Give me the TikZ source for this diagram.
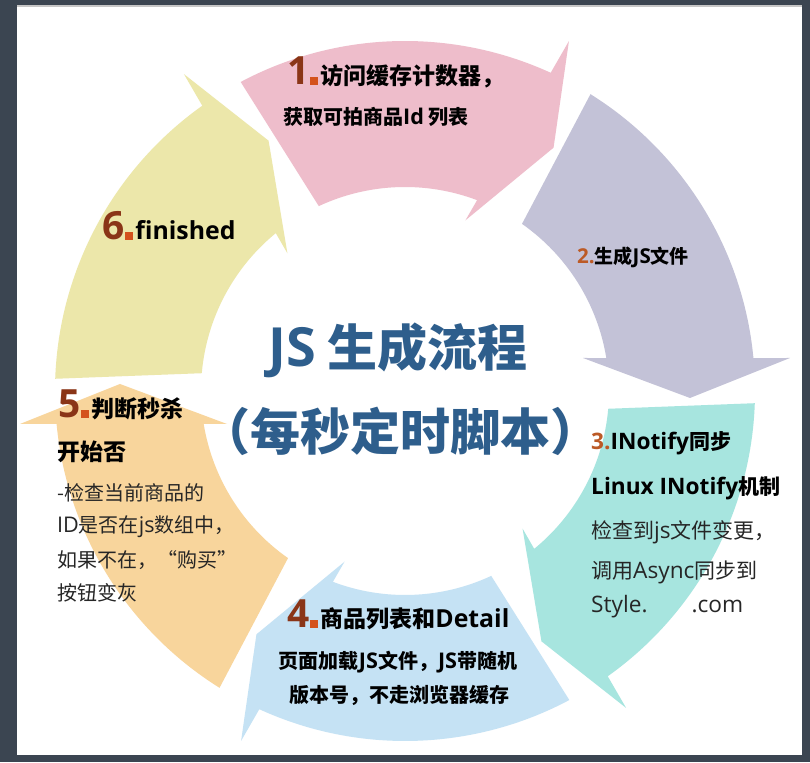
\documentclass[tikz,border=0pt]{standalone}
\usepackage{fontspec}
\usepackage{tikz}
\usetikzlibrary{positioning}
\newfontfamily\cjk{Noto Sans CJK SC}
\newfontfamily\latfont[Scale=1.08]{Open Sans}
\newcommand{\lt}[1]{{\latfont #1}}
\definecolor{framegray}{HTML}{3B4551}
\definecolor{arrowpink}{HTML}{EEBDCB}
\definecolor{arrowlilac}{HTML}{C3C2D7}
\definecolor{arrowteal}{HTML}{A7E5DF}
\definecolor{arrowblue}{HTML}{C5E2F4}
\definecolor{arroworange}{HTML}{F8D59C}
\definecolor{arrowyellow}{HTML}{ECE7AA}
\definecolor{titleblue}{HTML}{2E5E8C}
\definecolor{numbrown}{HTML}{8A3517}
\definecolor{numdot}{HTML}{D4521C}
\definecolor{numorange}{HTML}{BC5A26}
\definecolor{bodygray}{HTML}{262626}
\newcommand{\stepnum}[1]{{\latfont\bfseries\fontsize{36}{36}\selectfont\color{numbrown}#1}\kern1pt\textcolor{numdot}{\rule{8pt}{8pt}}\kern2pt}
% one block arc arrow of the ring, tip near 0 deg, then turned
\newcommand{\ringarrow}[2]{%
  \fill[#1, shift={(405,371)}, rotate=#2]
    (58:350) arc[start angle=58, end angle=5.4, radius=350]
    -- (385,33) -- (285,-7) -- (178,33)
    -- (9.3:204) arc[start angle=9.3, end angle=55, radius=204] -- cycle;}

\begin{document}
\begin{tikzpicture}[x=1pt,y=1pt,
  headtext/.style={font=\cjk\bfseries\fontsize{23}{26}\selectfont, inner sep=0pt},
  subtext/.style={font=\cjk\bfseries\fontsize{20}{24}\selectfont, inner sep=0pt},
  notetext/.style={font=\cjk\bfseries\fontsize{21}{24}\selectfont, inner sep=0pt},
  plaintext/.style={font=\cjk\fontsize{20}{24}\selectfont, text=bodygray, inner sep=0pt},
  titletext/.style={font=\cjk\bfseries\fontsize{50}{54}\selectfont, text=titleblue, inner sep=0pt}]
\useasboundingbox (0,0) rectangle (810,762);
\fill[framegray] (0,0) rectangle (810,762);
\fill[white] (17,7) rectangle (802,755);
\fill[gray!45] (17,755) rectangle (802,757);

% ring of six arrows
\ringarrow{arrowlilac}{0}
\ringarrow{arrowpink}{60}
\ringarrow{arrowyellow}{120}
\ringarrow{arroworange}{180}
\ringarrow{arrowblue}{240}
\ringarrow{arrowteal}{300}

% centre
\node[titletext] (title1) at (398,412) {\lt{JS} 生成流程};
\node[titletext] (title2) at (400,331) {（每秒定时脚本）};

% 1
\node[headtext, anchor=base west] (step1a) at (287,677) {\stepnum{1}访问缓存计数器，};
\node[subtext, anchor=west] (step1b) at (283,645) {获取可拍商品\lt{Id} 列表};
% 2
\node[subtext, font=\cjk\bfseries\fontsize{19}{22}\selectfont] (step2) at (633,505) {\textcolor{numorange}{\lt{2.}}生成\lt{JS}文件};
% 3
\node[notetext, anchor=west] (step3a) at (591,319) {\textcolor{numorange}{\lt{3.}}\lt{INotify}同步};
\node[notetext, anchor=west] (step3b) at (591,274) {\lt{Linux INotify}机制};
\node[plaintext, font=\cjk\fontsize{21}{24}\selectfont, anchor=west] (step3c) at (591,230) {检查到\lt{js}文件变更，};
\node[plaintext, font=\cjk\fontsize{21}{24}\selectfont, anchor=west] (step3d) at (591,190) {调用\lt{Async}同步到};
\node[plaintext, font=\cjk\fontsize{21}{24}\selectfont, anchor=west] (step3e) at (591,155) {\lt{Style.\hspace{44pt}.com}};
% 4
\node[headtext, anchor=base west] (step4a) at (287,134) {\stepnum{4}商品列表和\lt{Detail}};
\node[subtext] (step4b) at (398,100) {页面加载\lt{JS}文件，\lt{JS}带随机};
\node[subtext] (step4c) at (399,67) {版本号，不走浏览器缓存};
% 5
\node[headtext, anchor=base west] (step5a) at (58,344) {\stepnum{5}判断秒杀};
\node[headtext, anchor=west] (step5b) at (57,310) {开始否};
\node[plaintext, anchor=west] (step5c) at (57,269) {-检查当前商品的};
\node[plaintext, anchor=west] (step5d) at (57,235) {\lt{ID}是否在\lt{js}数组中，};
\node[plaintext, anchor=west] (step5e) at (57,202) {如果不在，“购买”};
\node[plaintext, anchor=west] (step5f) at (57,169) {按钮变灰};
% 6
\node[headtext, anchor=base west] (step6) at (102,522) {\stepnum{6}\lt{finished}};
\end{tikzpicture}
\end{document}
